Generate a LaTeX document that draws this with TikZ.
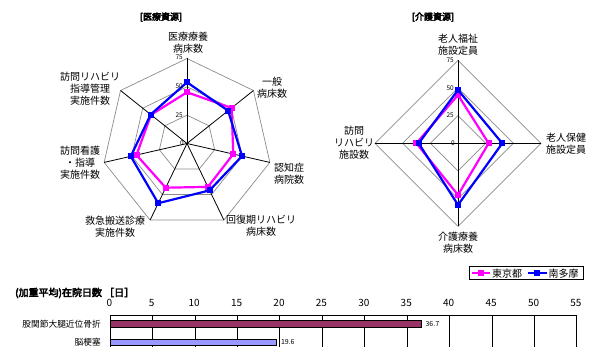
\documentclass[tikz,border=0pt]{standalone}
\usepackage{fontspec}
\setmainfont{Noto Sans CJK JP}
\newfontfamily\jpheavy[FakeBold=4]{Noto Sans CJK JP}
\definecolor{tkpink}{HTML}{FF00FF}
\definecolor{tmblue}{HTML}{0000FF}
\definecolor{barone}{HTML}{993366}
\definecolor{bartwo}{HTML}{9999FF}
\definecolor{ringgray}{HTML}{8C8C8C}
\begin{document}
\begin{tikzpicture}[x=1pt,y=-1pt,
  lbl/.style={align=center,inner sep=0pt,font=\fontsize{10}{12}\selectfont},
  ttl/.style={inner sep=0pt,font=\jpheavy\fontsize{9}{11}\selectfont},
  scl/.style={inner sep=0pt,anchor=east,font=\fontsize{6.5}{7}\selectfont},
  ring/.style={draw=ringgray,line width=0.7pt},
  spoke/.style={draw=black,line width=0.8pt},
  pinkline/.style={draw=tkpink,line width=2.2pt},
  blueline/.style={draw=tmblue,line width=2.2pt},
  pinkmark/.style={rectangle,fill=tkpink,minimum size=6pt,inner sep=0pt},
  bluemark/.style={rectangle,fill=tmblue,minimum size=6pt,inner sep=0pt},
  gridv/.style={draw=black,line width=0.6pt},
  axn/.style={inner sep=0pt,font=\fontsize{10}{12}\selectfont},
  catl/.style={inner sep=0pt,anchor=east,font=\fontsize{8.7}{10}\selectfont},
  vall/.style={inner sep=0pt,anchor=west,font=\fontsize{7}{8}\selectfont},
  legt/.style={inner sep=0pt,anchor=west,font=\fontsize{10}{12}\selectfont},
]
\useasboundingbox[fill=white] (0,0) rectangle (598,347);

% ---------------- left radar ----------------
\begin{scope}[shift={(187,143.5)},yscale=-1]
  \coordinate (LC) at (0,0);
  \foreach \r in {25,50,75} {
    \draw[ring] (90:{\r*85/75}) \foreach \i in {1,...,6}{ -- ({90-\i*360/7}:{\r*85/75}) } -- cycle;
  }
  \foreach \i in {0,...,6} \draw[spoke] (LC) -- ({90-\i*360/7}:85) coordinate (LA\i);
  \foreach \v [count=\i from 0] in {45.2,50.3,41.9,42.5,43.3,45.7,40.6}
    \coordinate (LP\i) at ({90-\i*360/7}:{\v*85/75});
  \foreach \v [count=\i from 0] in {54,46.4,49.8,45.9,58.5,50.9,41}
    \coordinate (LB\i) at ({90-\i*360/7}:{\v*85/75});
  \draw[pinkline] (LP0) -- (LP1) -- (LP2) -- (LP3) -- (LP4) -- (LP5) -- (LP6) -- cycle;
  \foreach \i in {0,...,6} \node[pinkmark] (LPM\i) at (LP\i) {};
  \draw[blueline] (LB0) -- (LB1) -- (LB2) -- (LB3) -- (LB4) -- (LB5) -- (LB6) -- cycle;
  \foreach \i in {0,...,6} \node[bluemark] (LBM\i) at (LB\i) {};
  \node[scl] (ls75) at (-4,86) {75};
  \node[scl] (ls50) at (-4,57) {50};
  \node[scl] (ls25) at (-4,28.5) {25};
  \node[scl] (ls0) at (-3,0.5) {0};
\end{scope}

\node[ttl] (ltitle) at (161,17) {[医療資源]};
\node[lbl] (l1) at (188,43) {医療療養\\病床数};
\node[lbl] (l2) at (272,88) {一般\\病床数};
\node[lbl] (l3) at (289,173.5) {認知症\\病院数};
\node[lbl] (l4) at (261,226) {回復期リハビリ\\病床数};
\node[lbl] (l5) at (115,226.5) {救急搬送診療\\実施件数};
\node[lbl] (l6) at (80,163) {訪問看護\\・指導\\実施件数};
\node[lbl] (l7) at (90,89) {訪問リハビリ\\指導管理\\実施件数};

% ---------------- right radar ----------------
\begin{scope}[shift={(458,143.3)},yscale=-1]
  \coordinate (RC) at (0,0);
  \foreach \r in {25,50,75} {
    \draw[ring] (90:{\r*83/75}) -- (0:{\r*83/75}) -- (-90:{\r*83/75}) -- (180:{\r*83/75}) -- cycle;
  }
  \foreach \i in {0,...,3} \draw[spoke] (RC) -- ({90-\i*90}:83) coordinate (RA\i);
  \foreach \v [count=\i from 0] in {43.6,27.7,46.7,37.6}
    \coordinate (RP\i) at ({90-\i*90}:{\v*83/75});
  \foreach \v [count=\i from 0] in {48.2,40,55.7,35.5}
    \coordinate (RB\i) at ({90-\i*90}:{\v*83/75});
  \draw[pinkline] (RP0) -- (RP1) -- (RP2) -- (RP3) -- cycle;
  \foreach \i in {0,...,3} \node[pinkmark] (RPM\i) at (RP\i) {};
  \draw[blueline] (RB0) -- (RB1) -- (RB2) -- (RB3) -- cycle;
  \foreach \i in {0,...,3} \node[bluemark] (RBM\i) at (RB\i) {};
  \node[scl] (rs75) at (-4,83) {75};
  \node[scl] (rs50) at (-4,55.5) {50};
  \node[scl] (rs25) at (-4,27.7) {25};
  \node[scl] (rs0) at (-3,0.5) {0};
\end{scope}

\node[ttl] (rtitle) at (433,17) {[介護資源]};
\node[lbl] (r1) at (458,45) {老人福祉\\施設定員};
\node[lbl] (r2) at (566,143.3) {老人保健\\施設定員};
\node[lbl] (r3) at (458,242.5) {介護療養\\病床数};
\node[lbl] (r4) at (354,143) {訪問\\リハビリ\\施設数};

% ---------------- legend ----------------
\node[draw=black,line width=0.6pt,minimum width=114pt,minimum height=13pt,inner sep=0pt] (legbox) at (526,273) {};
\coordinate (lgpa) at (472,273.3);
\coordinate (lgpb) at (490,273.3);
\draw[pinkline,line width=1.8pt] (lgpa) -- (lgpb);
\node[pinkmark] (lgpm) at (481,273.3) {};
\node[legt] (lgpt) at (492,273.3) {東京都};
\coordinate (lgba) at (528,273.3);
\coordinate (lgbb) at (547,273.3);
\draw[blueline,line width=1.8pt] (lgba) -- (lgbb);
\node[bluemark] (lgbm) at (537,273.3) {};
\node[legt] (lgbt) at (548.5,273.3) {南多摩};

% ---------------- bar chart ----------------
\node[inner sep=0pt,anchor=west,font=\jpheavy\fontsize{10}{12}\selectfont] (btitle) at (15,293) {(加重平均)在院日数 ［日］};
\foreach \v in {0,5,...,55} {
  \draw[gridv] ({110+\v*8.485},315) -- ({110+\v*8.485},347);
  \node[axn] (ax\v) at ({109.3+\v*8.485},303) {\v};
}
\draw[gridv] (110,315) -- (576.7,315);
\draw[fill=barone,line width=0.6pt] (110,320.7) rectangle ({110+36.7*8.485},327.3);
\draw[fill=bartwo,line width=0.6pt] (110,339) rectangle ({110+19.6*8.485},345.3);
\node[vall] (bv1) at ({110+36.7*8.485+4},324) {36.7};
\node[vall] (bv2) at ({110+19.6*8.485+4.5},342) {19.6};
\node[catl] (bc1) at (101,324) {股関節大腿近位骨折};
\node[catl] (bc2) at (101,342.5) {脳梗塞};
\end{tikzpicture}
\end{document}
